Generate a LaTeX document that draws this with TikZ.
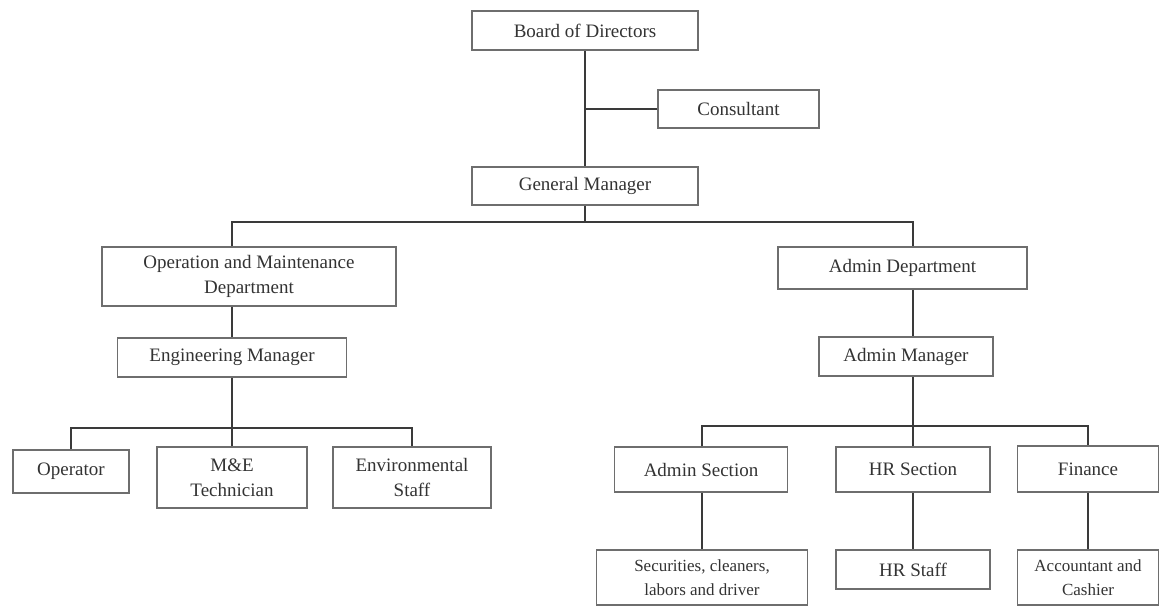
\documentclass[tikz,border=0pt]{standalone}
\usepackage{fontspec}
\setmainfont{Liberation Serif}
\usetikzlibrary{calc}
\definecolor{Ink}{HTML}{333333}
\definecolor{Frame}{HTML}{6E6E6E}
\definecolor{Wire}{HTML}{3A3A3A}
\tikzset{
 box/.style={draw=Frame, line width=0.75pt, fill=white, align=center, inner sep=0pt, text=Ink, font=\fontsize{9.5}{12.5}\selectfont},
 smallbox/.style={box, font=\fontsize{8.5}{12}\selectfont},
 wire/.style={draw=Wire, line width=0.9pt}
}
\begin{document}
\begin{tikzpicture}[x=0.5pt,y=-0.5pt]
\useasboundingbox (0,0) rectangle (1161,607);
\node[box, minimum width=113pt, minimum height=19.5pt] (board) at (585,30.5) {Board of Directors};
\node[box, minimum width=80.5pt, minimum height=19pt] (cons) at (738.5,109) {Consultant};
\node[box, minimum width=113pt, minimum height=19pt] (gm) at (585,186) {General Manager};
\node[box, minimum width=147pt, minimum height=29.5pt] (om) at (249,276.5) {Operation and Maintenance\\Department};
\node[box, minimum width=124.5pt, minimum height=21pt] (admdept) at (902.5,268) {Admin Department};
\node[box, minimum width=114.5pt, minimum height=19.5pt] (engmgr) at (232,357.5) {Engineering Manager};
\node[box, minimum width=87pt, minimum height=19.5pt] (admmgr) at (906,356.5) {Admin Manager};
\node[box, minimum width=58pt, minimum height=21.5pt] (oper) at (71,471.5) {Operator};
\node[box, minimum width=75pt, minimum height=30.5pt] (mne) at (232,477.5) {M\&E\\Technician};
\node[box, minimum width=79pt, minimum height=30.5pt] (env) at (412,477.5) {Environmental\\Staff};
\node[box, minimum width=86.5pt, minimum height=22.5pt] (admsec) at (701,469.5) {Admin Section};
\node[box, minimum width=77pt, minimum height=22.5pt] (hrsec) at (913,469.5) {HR Section};
\node[box, minimum width=70.5pt, minimum height=23pt] (fin) at (1088,469) {Finance};
\node[smallbox, minimum width=105.5pt, minimum height=27.5pt] (sec) at (702,577.5) {Securities, cleaners,\\labors and driver};
\node[box, minimum width=77pt, minimum height=19.5pt] (hrstaff) at (913,569.5) {HR Staff};
\node[smallbox, minimum width=70.5pt, minimum height=27.5pt] (acc) at (1088,577.5) {Accountant and\\Cashier};
\coordinate (gmbar) at (585,222);
\coordinate (engbar) at (232,428);
\coordinate (admbar) at (913,426);
\draw[wire] (board.south) -- (gm.north);
\draw[wire] (cons.west) -- (cons.west -| board);
\draw[wire] (gm.south) -- (gmbar);
\draw[wire] (om.north -| engmgr) |- (gmbar) -| (admdept.north -| hrsec);
\draw[wire] (om.south -| engmgr) -- (engmgr.north);
\draw[wire] (engmgr.south) -- (engbar);
\draw[wire] (oper.north) |- (engbar) -| (env.north);
\draw[wire] (mne.north) -- (engbar);
\draw[wire] (admdept.south -| hrsec) -- (admmgr.north -| hrsec);
\draw[wire] (admmgr.south -| hrsec) -- (admbar);
\draw[wire] (sec |- admsec.north) |- (admbar) -| (fin.north);
\draw[wire] (hrsec.north) -- (admbar);
\draw[wire] (admsec.south -| sec) -- (sec.north);
\draw[wire] (hrsec.south) -- (hrstaff.north);
\draw[wire] (fin.south) -- (acc.north);
\end{tikzpicture}
\end{document}
